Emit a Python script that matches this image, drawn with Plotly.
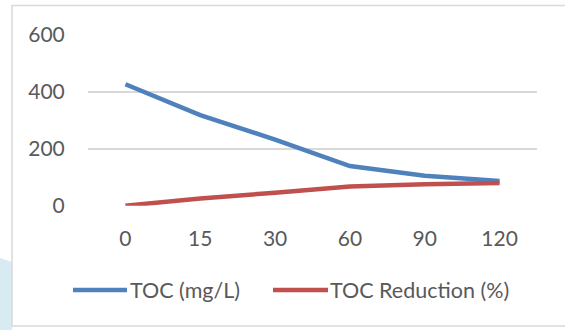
import plotly.graph_objects as go

# ---- data ----
categories = ["0", "15", "30", "60", "90", "120"]
toc_mg_l = [426, 318, 232, 139, 105, 87]
toc_reduction_pct = [0, 25.4, 45.5, 67.4, 75.4, 79.6]
y_ticks = [0, 200, 400, 600]
series_names = ["TOC (mg/L)", "TOC Reduction (%)"]

W, H = 565, 330
BLUE = "#4F81BD"
RED = "#C0504D"
TXT = "#595959"
GRID = "#D9D9D9"
FONT = "Lato"
TICK_SIZE = 21
LEG_SIZE = 21.5


def px(x):
    return x / W


def py(y):
    return 1 - y / H


fig = go.Figure()
fig.add_trace(go.Scatter(x=categories, y=toc_mg_l, mode="lines", name=series_names[0],
                         line=dict(color=BLUE, width=4.5)))
fig.add_trace(go.Scatter(x=categories, y=toc_reduction_pct, mode="lines", name=series_names[1],
                         line=dict(color=RED, width=4.5)))

shapes = [
    # light blue page decoration at left
    dict(type="path", xref="paper", yref="paper", layer="below",
         path=f"M {px(0)},{py(258)} L {px(12)},{py(262)} L {px(12)},{py(330)} L {px(0)},{py(330)} Z",
         fillcolor="#D8EAF2", line=dict(width=0)),
    # chart frame
    dict(type="rect", xref="paper", yref="paper", layer="below",
         x0=px(12), x1=px(566), y0=py(326), y1=py(5.5),
         fillcolor="white", line=dict(color=GRID, width=1.5)),
    # legend symbols
    dict(type="line", xref="paper", yref="paper", x0=px(73), x1=px(127), y0=py(290), y1=py(290),
         line=dict(color=BLUE, width=4.5)),
    dict(type="line", xref="paper", yref="paper", x0=px(273), x1=px(328), y0=py(290), y1=py(290),
         line=dict(color=RED, width=4.5)),
]
annotations = [
    dict(xref="paper", yref="paper", x=px(128), y=py(290), text=series_names[0], showarrow=False,
         xanchor="left", yanchor="middle", font=dict(family=FONT, size=LEG_SIZE, color=TXT)),
    dict(xref="paper", yref="paper", x=px(328), y=py(290), text=series_names[1], showarrow=False,
         xanchor="left", yanchor="middle", font=dict(family=FONT, size=LEG_SIZE, color=TXT)),
]

fig.update_layout(
    width=W, height=H,
    margin=dict(l=0, r=0, t=0, b=0, autoexpand=False),
    paper_bgcolor="white", plot_bgcolor="rgba(0,0,0,0)",
    showlegend=False,
    font=dict(family=FONT, size=TICK_SIZE, color=TXT),
    shapes=shapes, annotations=annotations,
    xaxis=dict(domain=[px(88), px(537)], type="category", range=[-0.5, 5.5],
               automargin=False,
               showgrid=False, zeroline=False, showline=False,
               ticks="outside", ticklen=0, ticklabelstandoff=14,
               tickfont=dict(family=FONT, size=TICK_SIZE, color=TXT)),
    yaxis=dict(domain=[py(205.7), py(34.7)], range=[0, 600], tickvals=y_ticks,
               automargin=False,
               showgrid=True, gridcolor=GRID, gridwidth=1.5, zeroline=False, showline=False,
               ticks="outside", ticklen=0, ticklabelstandoff=18,
               tickfont=dict(family=FONT, size=TICK_SIZE, color=TXT)),
)

fig.write_html("out.html")
